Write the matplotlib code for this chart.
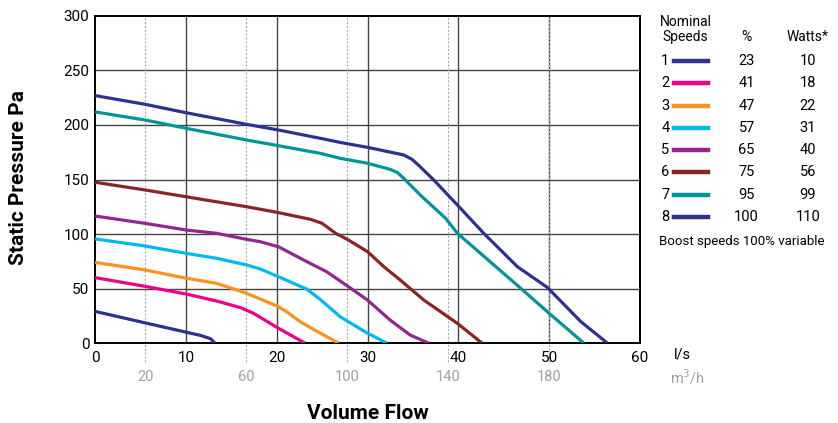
import numpy as np
import matplotlib.pyplot as plt
from matplotlib import font_manager

# ---------------------------------------
# Fan curve data
# ---------------------------------------

speeds = ["1", "2", "3", "4", "5", "6", "7", "8"]
percent = ["23", "41", "47", "57", "65", "75", "95", "100"]
watts = ["10", "18", "22", "31", "40", "56", "99", "110"]
colors = ["#2E3192", "#EC008C", "#F7941D", "#00B9F1",
          "#92278F", "#8B2525", "#00959A", "#2E3192"]

flow_1 = [0, 5.5, 10, 11.6, 12.7, 13.2]
pres_1 = [29, 18.5, 10, 7, 4, 0]

flow_2 = [0, 5.5, 10, 13.4, 16, 17.4, 20.2, 23.1]
pres_2 = [60, 52, 45, 38.5, 32.5, 27.5, 13.5, 0]

flow_3 = [0, 5.5, 10, 13.4, 16.7, 20.2, 21.1, 22.6, 24.8, 26.8]
pres_3 = [74, 67, 59.5, 54.7, 45.6, 33.3, 28.7, 19.5, 9, 0]

flow_4 = [0, 5.5, 10, 13.4, 16.7, 18.2, 20.2, 23.3, 24.8, 27, 30, 32.1]
pres_4 = [95.5, 89, 82.3, 77.7, 71.6, 67.9, 60.8, 49.5, 40, 24, 9, 0]

flow_5 = [0, 5.5, 10, 13.4, 16.7, 18.2, 20.2, 23, 25.5, 27.9, 30, 32.5, 34.7, 36.7]
pres_5 = [116.5, 109.8, 103.7, 100.6, 95.1, 92.9, 88.3, 76, 65.4, 51.7, 39.4, 21, 7.3, 0]

flow_6 = [0, 5.5, 10, 16.7, 18.2, 20.2, 23.7, 25, 26.5, 27.9, 30, 31.8, 33.6,
          34.7, 36.2, 39.9, 42.6]
pres_6 = [147.5, 140.4, 134.2, 125, 122.7, 119.6, 113.5, 109.8, 100.6, 94.5, 83.8,
          70, 57.8, 50, 39.4, 18, 0]

flow_7 = [0, 5.5, 10, 16.7, 20.2, 24.8, 27, 30, 32.5, 33.3, 34, 35.8, 38.6,
          39.9, 46.9, 49.8, 53.8]
pres_7 = [212, 204.6, 197, 186.2, 181, 174, 169.4, 164.9, 159.3, 156.3, 151, 135.8,
          114.4, 100.6, 50, 28.7, 0]

flow_8 = [0, 5.5, 10, 16.7, 20.2, 24.8, 27, 30, 34, 34.9, 35.8, 37.3, 39.9,
          42.8, 46.5, 49.8, 53.5, 56.4]
pres_8 = [227, 219, 211.3, 200.6, 195.4, 187.8, 184, 179.5, 172.5, 168.5, 161.7,
          149.5, 126.6, 100.6, 70, 51, 19.5, 0]

flows = [flow_1, flow_2, flow_3, flow_4, flow_5, flow_6, flow_7, flow_8]
pressures = [pres_1, pres_2, pres_3, pres_4, pres_5, pres_6, pres_7, pres_8]

x_ticks = [0, 10, 20, 30, 40, 50, 60]
y_ticks = [0, 50, 100, 150, 200, 250, 300]
m3h_ticks = [20, 60, 100, 140, 180]

# ---------------------------------------
# Font
# ---------------------------------------

names = {f.name for f in font_manager.fontManager.ttflist}
narrow = "Liberation Sans Narrow" if "Liberation Sans Narrow" in names else "Roboto"
plt.rcParams["font.family"] = [narrow, "DejaVu Sans"]

# ---------------------------------------
# Plot
# ---------------------------------------

fig = plt.figure(figsize=(8.38, 4.23), dpi=100)
ax = fig.add_axes([0.1134, 0.1891, 0.6503, 0.7731])

ax.set_xlim(0, 60)
ax.set_ylim(0, 300)

# solid grid
for xv in x_ticks[1:-1]:
    ax.axvline(xv, color="#444444", lw=1.0, zorder=1)
for yv in y_ticks[1:-1]:
    ax.axhline(yv, color="#444444", lw=1.0, zorder=1)

# m3/h dotted grid, extending below the axes
for m in m3h_ticks:
    ax.axvline(m / 3.6, ymin=-0.058, ymax=1, color="#AAAAAA", lw=0.8,
               ls=(0, (2, 1.5)), clip_on=False, zorder=1)
    ax.text(m / 3.6, -0.105, str(m), transform=ax.get_xaxis_transform(),
            ha="center", va="center", color="#A0A0A0", fontsize=10.5)

for f, p, c in zip(flows, pressures, colors):
    ax.plot(f, p, color=c, lw=2.3, solid_capstyle="butt",
            solid_joinstyle="round", zorder=3)

for s in ax.spines.values():
    s.set_linewidth(1.4)
    s.set_color("black")

ax.set_xticks(x_ticks)
ax.set_yticks(y_ticks)
ax.tick_params(length=0, labelsize=11, pad=4)
ax.tick_params(axis="x", pad=6)

ax.text(1.078, -0.035, "l/s", transform=ax.transAxes, ha="center",
        va="center", fontsize=10.5)
ax.text(1.087, -0.105, "m$^3$/h", transform=ax.transAxes, ha="center",
        va="center", fontsize=10.5, color="#A0A0A0")

fig.text(0.439, 0.022, "Volume Flow", ha="center", va="center",
         fontsize=15, fontweight="bold")
fig.text(0.022, 0.58, "Static Pressure Pa", ha="center", va="center",
         fontsize=15, fontweight="bold", rotation=90)

# ---------------------------------------
# Legend table
# ---------------------------------------

fig.text(0.818, 0.948, "Nominal", ha="center", va="center", fontsize=10)
fig.text(0.818, 0.912, "Speeds", ha="center", va="center", fontsize=10)
fig.text(0.891, 0.912, "%", ha="center", va="center", fontsize=10)
fig.text(0.964, 0.912, "Watts*", ha="center", va="center", fontsize=10)

row_y = 1 - 61.0 / 423
step = 22.3 / 423
for i in range(len(speeds)):
    y = row_y - i * step
    fig.text(0.794, y, speeds[i], ha="center", va="center", fontsize=10.5)
    fig.add_artist(plt.Line2D([0.804, 0.845], [y, y], color=colors[i],
                              lw=3.2, transform=fig.transFigure))
    fig.text(0.891, y, percent[i], ha="center", va="center", fontsize=10.5)
    fig.text(0.964, y, watts[i], ha="center", va="center", fontsize=10.5)

fig.text(0.786, row_y - 8 * step - 0.005, "Boost speeds 100% variable",
         ha="left", va="center", fontsize=9.5)

plt.savefig("out.png", dpi=100)
